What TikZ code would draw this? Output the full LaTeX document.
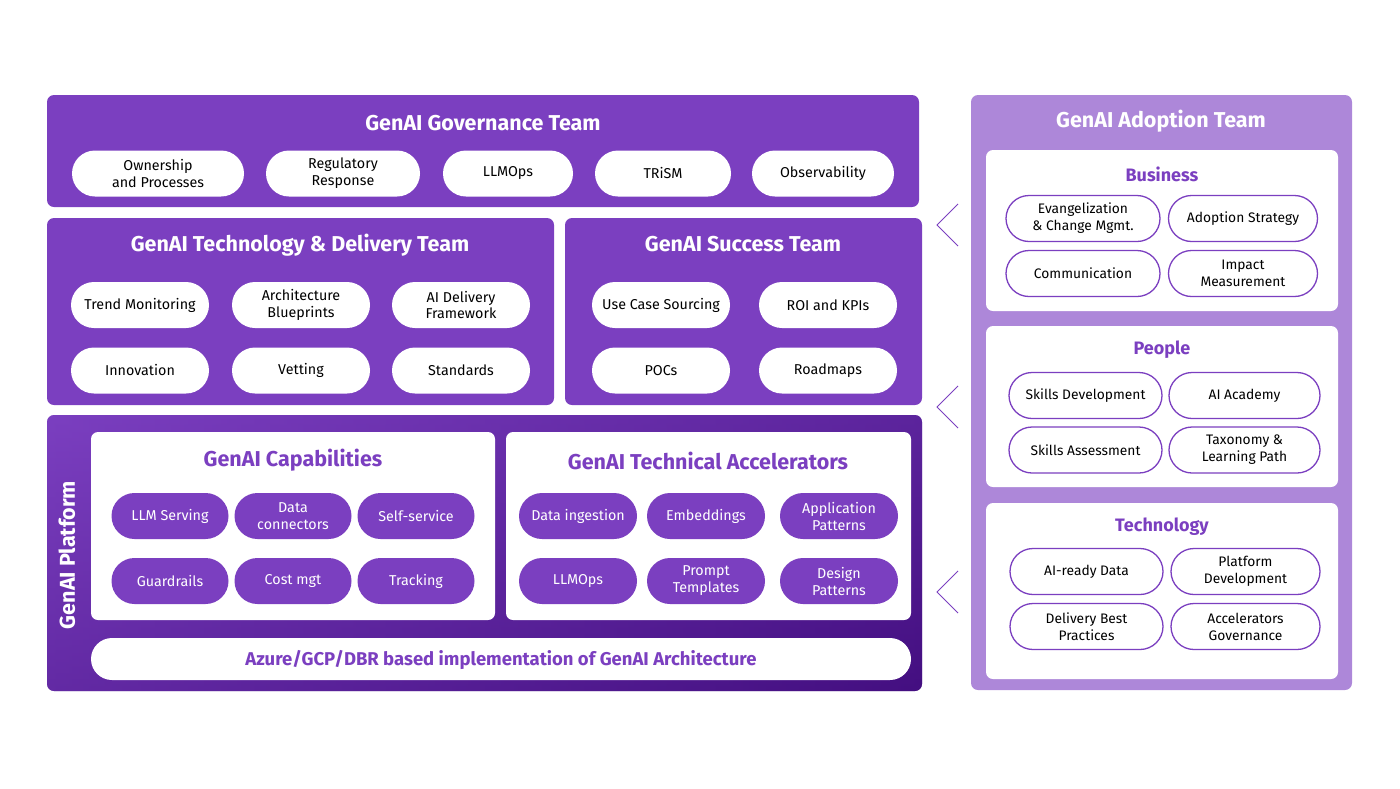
\documentclass[tikz,border=0pt]{standalone}
\usepackage{fontspec}
\setmainfont{Fira Sans}
\begin{document}
\begin{tikzpicture}[x=1pt,y=-1pt,
  panel/.style={fill=pmain,rounded corners=7pt},
  wbox/.style={fill=white,rounded corners=7pt},
  ttl/.style={text=white,font=\bfseries\fontsize{21.5}{24}\selectfont},
  ptl/.style={text=pmain,font=\bfseries\fontsize{21.5}{24}\selectfont},
  stl/.style={text=pmain,font=\bfseries\fontsize{18}{21}\selectfont},
  wpill/.style={fill=white,rounded corners=23pt,minimum height=46pt,align=center,font=\fontsize{14.3}{17}\selectfont,text=black,inner sep=0pt},
  ppill/.style={fill=pmain,rounded corners=23pt,minimum height=46pt,align=center,font=\fontsize{14.3}{17}\selectfont,text=white,inner sep=0pt},
  opill/.style={draw=pmain,line width=1.3pt,fill=white,rounded corners=23pt,minimum height=46pt,align=center,font=\fontsize{13.8}{17}\selectfont,text=black,inner sep=0pt},
  chev/.style={draw=pmain,line width=1pt}]
\definecolor{pmain}{HTML}{7B3FC0}
\definecolor{plight}{HTML}{AD87D9}
\definecolor{pdark}{HTML}{3E0A7A}
\useasboundingbox (0,0) rectangle (1400,788);
% Governance
\fill[panel] (47,95) rectangle (919,207);
\node[ttl] (gov) at (483,123) {GenAI Governance Team};
\node[wpill,minimum width=172pt] (g1) at (158,173.5) {Ownership\\and Processes};
\node[wpill,minimum width=154pt] (g2) at (343,173.5) {Regulatory\\Response};
\node[wpill,minimum width=130pt] (g3) at (508,173.5) {LLMOps};
\node[wpill,minimum width=136pt] (g4) at (663,173.5) {TRiSM};
\node[wpill,minimum width=142pt] (g5) at (823,173.5) {Observability};
% Tech & Delivery
\fill[panel] (47,218) rectangle (554,405);
\node[ttl] (td) at (300,245) {GenAI Technology \& Delivery Team};
\foreach \n/\x/\y/\t in {t1/140/305/Trend Monitoring,t2/301/305/{Architecture\\Blueprints},t3/461/305/{AI Delivery\\Framework},t4/140/370.5/Innovation,t5/301/370.5/Vetting,t6/461/370.5/Standards}
  \node[wpill,minimum width=138pt] (\n) at (\x,\y) {\t};
% Success
\fill[panel] (565,218) rectangle (922,405);
\node[ttl] (su) at (743,244) {GenAI Success Team};
\foreach \n/\x/\y/\t in {s1/661/305/Use Case Sourcing,s2/828/305/ROI and KPIs,s3/661/370.5/POCs,s4/828/370.5/Roadmaps}
  \node[wpill,minimum width=138pt] (\n) at (\x,\y) {\t};
% Platform
\shade[top color=pmain,bottom color=pdark!80!pmain,rounded corners=7pt] (47,415) rectangle (922,691);
\shade[left color=pmain,right color=pdark,opacity=0.5,rounded corners=7pt] (47,415) rectangle (922,691);
\node[rotate=90,ttl] (plat) at (67,555) {GenAI Platform};
\fill[wbox] (91,432) rectangle (495,620);
\node[ptl] (cap) at (293,460) {GenAI Capabilities};
\foreach \n/\x/\y/\t in {c1/170/516/LLM Serving,c2/293/516/{Data\\connectors},c3/416/516/Self-service,c4/170/581/Guardrails,c5/293/581/Cost mgt,c6/416/581/Tracking}
  \node[ppill,minimum width=117pt] (\n) at (\x,\y) {\t};
\fill[wbox] (506,432) rectangle (911,620);
\node[ptl] (acc) at (708,461) {GenAI Technical Accelerators};
\foreach \n/\x/\y/\t in {a1/578/516/Data ingestion,a2/706/516/Embeddings,a3/839/516/{Application\\Patterns},a4/578/581/LLMOps,a5/706/581/{Prompt\\Templates},a6/839/581/{Design\\Patterns}}
  \node[ppill,minimum width=118pt] (\n) at (\x,\y) {\t};
\fill[white,rounded corners=21pt] (91,638) rectangle (911,680);
\node[text=pmain,font=\bfseries\fontsize{18.5}{21}\selectfont] (az) at (501,660) {Azure/GCP/DBR based implementation of GenAI Architecture};
% Adoption
\fill[plight,rounded corners=7pt] (971,95) rectangle (1352,690);
\node[ttl] (ad) at (1161,121) {GenAI Adoption Team};
\fill[wbox] (986,150) rectangle (1338,311);
\node[stl] (bus) at (1162,174) {Business};
\node[opill,minimum width=154pt] (b1) at (1083,218.5) {Evangelization\\\& Change Mgmt.};
\node[opill,minimum width=149pt] (b2) at (1243,218.5) {Adoption Strategy};
\node[opill,minimum width=154pt] (b3) at (1083,273.5) {Communication};
\node[opill,minimum width=149pt] (b4) at (1243,273.5) {Impact\\Measurement};
\fill[wbox] (986,326) rectangle (1338,487);
\node[stl] (peo) at (1162,350) {People};
\node[opill,minimum width=153pt] (p1) at (1085.5,395.5) {Skills Development};
\node[opill,minimum width=151pt] (p2) at (1244.5,395.5) {AI Academy};
\node[opill,minimum width=153pt] (p3) at (1085.5,450) {Skills Assessment};
\node[opill,minimum width=151pt] (p4) at (1244.5,450) {Taxonomy \&\\Learning Path};
\fill[wbox] (986,503) rectangle (1338,679);
\node[stl] (tec) at (1162,527) {Technology};
\node[opill,minimum width=153pt] (e1) at (1086.5,571.5) {AI-ready Data};
\node[opill,minimum width=149pt] (e2) at (1245.5,571.5) {Platform\\Development};
\node[opill,minimum width=153pt] (e3) at (1086.5,626.5) {Delivery Best\\Practices};
\node[opill,minimum width=149pt] (e4) at (1245.5,626.5) {Accelerators\\Governance};
% chevrons
\foreach \c in {225,407,592}
  \draw[chev] (958,\c-21) -- (937,\c) -- (958,\c+21);
\end{tikzpicture}
\end{document}
